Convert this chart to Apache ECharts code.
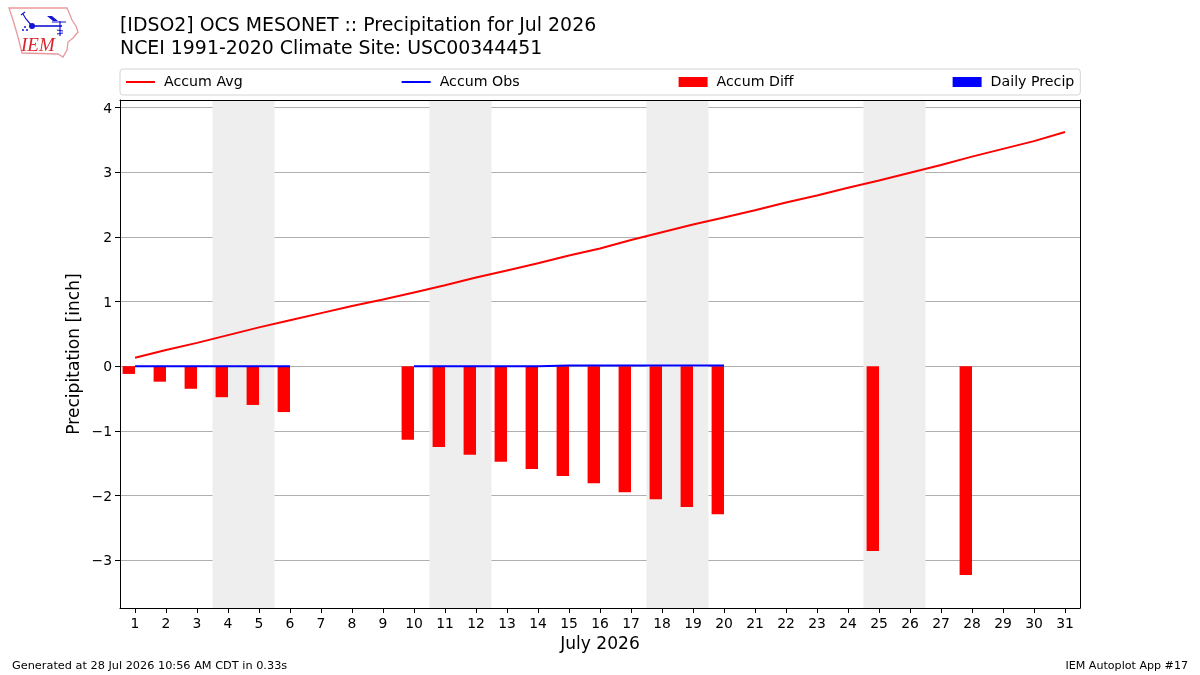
<!DOCTYPE html>
<html>
<head>
<meta charset="utf-8">
<style>html,body{margin:0;padding:0;background:#fff}#chart{width:1200px;height:675px}</style>
<script src="https://cdn.jsdelivr.net/npm/echarts@6/dist/echarts.min.js"></script>
</head>
<body>
<div id="chart"></div>
<script>
// Monthly precipitation summary for one station: accumulated average,
// accumulated observation and their departure, by day of the month.
const days = [1,2,3,4,5,6,7,8,9,10,11,12,13,14,15,16,17,18,19,20,21,22,23,24,25,26,27,28,29,30,31];
const accumAvg = [0.13,0.25,0.36,0.48,0.60,0.71,0.82,0.93,1.03,1.14,1.25,1.37,1.48,1.59,1.71,1.82,1.95,2.07,2.19,2.30,2.41,2.53,2.64,2.76,2.87,2.99,3.11,3.24,3.36,3.48,3.62];
const accumObs = [0,0,0,0,0,0,null,null,null,0,0,0,0,0,0.01,0.01,0.01,0.01,0.01,0.01];
const diffDays = [1,2,3,4,5,6,10,11,12,13,14,15,16,17,18,19,20,25,28];
const accumDiff = [-0.12,-0.24,-0.35,-0.48,-0.60,-0.71,-1.14,-1.25,-1.37,-1.48,-1.59,-1.70,-1.81,-1.95,-2.06,-2.18,-2.29,-2.86,-3.23];
const dailyPrecip = [];
const weekends = [[3.5,5.5],[10.5,12.5],[17.5,19.5],[24.5,26.5]];
const yTicks = [-3,-2,-1,0,1,2,3,4];

const FONT = '"DejaVu Sans"';
const BAR_SPAN = 0.4; // bars occupy the 0.4 day that ends at their tick
const X_RANGE = {min:0.516, max:31.484};
const Y_RANGE = {min:-3.74, max:4.116};

const chart = echarts.init(document.getElementById('chart'), null, {renderer: 'canvas'});

const BLUE = '#1414d2';
const stroke = (points, lineWidth) => ({type:'polyline', shape:{points}, style:{stroke:BLUE, lineWidth, fill:null}});

// Iowa outline and station glyph of the IEM logo
const logo = [
  {type:'polygon', shape:{points:[[9,8],[67,8],[70,15],[72,20],[76,26],[78,32],[73,38],[68,42],[67,50],[63,57],[58,54],[22,53],[20,45],[18,37],[13,20]]},
   style:{fill:'#fff',stroke:'#e9989c',lineWidth:1.3}},
  stroke([[32,26],[62,26]], 1.6),
  stroke([[23,14],[26,19],[32,26]], 1.2),
  stroke([[21,15],[25,12]], 1.2),
  stroke([[60,21],[60,36]], 1.2),
  stroke([[52,22],[66,22]], 1),
  stroke([[57,30],[63,31]], 1),
  stroke([[57,34],[63,33]], 1),
  {type:'polygon', shape:{points:[[47,16],[52,16],[58,21],[53,21]]}, style:{fill:BLUE}},
  {type:'circle', shape:{cx:32,cy:26,r:3}, style:{fill:BLUE}},
  {type:'circle', shape:{cx:23,cy:30,r:1}, style:{fill:BLUE}},
  {type:'circle', shape:{cx:27,cy:30,r:1}, style:{fill:BLUE}},
  {type:'circle', shape:{cx:25,cy:27,r:1}, style:{fill:BLUE}},
  {type:'text', style:{x:21,y:36,text:'IEM',fill:'#d8262c',font:'italic 19px "Liberation Serif"'}}
];

// Flat rule icon for the legend's line entries; the zero-height subpaths keep the icon box
const LINE_ICON = 'path://M0 0H29V0ZM0 4H29V6H0ZM0 10H29V10Z';

// Axes that only close the frame on the top and right sides
const frameAxis = (position, range) => ({
  type:'value', position, ...range, z:1,
  axisLine:{show:true, onZero:false, lineStyle:{color:'#000', width:1}},
  axisTick:{show:false}, axisLabel:{show:false}, splitLine:{show:false}
});

const option = {
  animation: false,
  backgroundColor: '#fff',
  textStyle: {fontFamily: FONT},
  grid: {left:120, right:120, top:100, bottom:67},
  legend: {
    left:120, top:69, padding:[6,6,6,6], itemGap:159, itemWidth:29, itemHeight:10,
    backgroundColor:'#fff', borderColor:'#d4d4d4', borderWidth:1, borderRadius:3,
    data:[{name:'Accum Avg',icon:LINE_ICON},{name:'Accum Obs',icon:LINE_ICON},{name:'Accum Diff',icon:'rect'},{name:'Daily Precip',icon:'rect'}],
    textStyle:{fontFamily:FONT, fontSize:14.2, color:'#000', padding:[0,0,0,4]}
  },
  xAxis: [{
    type:'value', ...X_RANGE, z:1,
    name:'July 2026', nameLocation:'middle', nameGap:28,
    nameTextStyle:{fontFamily:FONT, fontSize:17.1, color:'#000'},
    axisLine:{show:true, onZero:false, lineStyle:{color:'#000', width:1}},
    axisTick:{show:true, length:5, customValues:days, lineStyle:{color:'#000', width:1}},
    axisLabel:{customValues:days, fontFamily:FONT, fontSize:13.9, color:'#000', margin:9, formatter:v=>String(v)},
    splitLine:{show:false}
  }, frameAxis('top', X_RANGE)],
  yAxis: [{
    type:'value', ...Y_RANGE, z:0,
    name:'Precipitation [inch]', nameLocation:'middle', nameGap:37, nameMoveOverlap:false,
    nameTextStyle:{fontFamily:FONT, fontSize:17.1, color:'#000'},
    axisLine:{show:true, onZero:false, lineStyle:{color:'#000', width:1}},
    axisTick:{show:true, length:5, customValues:yTicks, lineStyle:{color:'#000', width:1}},
    axisLabel:{customValues:yTicks, fontFamily:FONT, fontSize:13.9, color:'#000', margin:8,
      rich:{t:{fontFamily:FONT, fontSize:13.9, color:'#000', padding:[3,0,0,0]}},
      formatter:v=>'{t|'+String(v).replace('-','\u2212')+'}'},
    splitLine:{show:true, lineStyle:{color:'#b0b0b0', width:1}}
  }, frameAxis('right', Y_RANGE)],
  series: [
    {name:'Accum Avg', type:'line', z:5, symbol:'none', color:'#ff0000', lineStyle:{width:2},
     data:days.map((d,i)=>[d,accumAvg[i]])},
    {name:'Accum Obs', type:'line', z:5, symbol:'none', color:'#0000ff', lineStyle:{width:2},
     connectNulls:false,
     data:accumObs.map((v,i)=>[days[i],v])},
    {name:'Accum Diff', type:'bar', z:3, color:'#ff0000', barWidth:12.4, barGap:'-100%',
     data:diffDays.map((d,i)=>[d-BAR_SPAN/2,accumDiff[i]]),
     markArea:{silent:true, z:0, itemStyle:{color:'#eeeeee'},
       data:weekends.map(w=>[{xAxis:w[0]},{xAxis:w[1]}])}},
    {name:'Daily Precip', type:'bar', z:3, color:'#0000ff', barWidth:12.4, barGap:'-100%',
     data:dailyPrecip}
  ],
  graphic: [
    ...logo,
    {type:'text', left:120, top:15, style:{text:'[IDSO2] OCS MESONET :: Precipitation for Jul 2026\nNCEI 1991-2020 Climate Site: USC00344451', fill:'#000', font:'18.9px '+FONT, lineHeight:23}},
    {type:'text', left:12, top:661, style:{text:'Generated at 28 Jul 2026 10:56 AM CDT in 0.33s', fill:'#000', font:'11.3px '+FONT}},
    {type:'text', right:12, top:661, style:{text:'IEM Autoplot App #17', fill:'#000', font:'11.1px '+FONT}}
  ]
};
chart.setOption(option);
</script>
</body>
</html>
